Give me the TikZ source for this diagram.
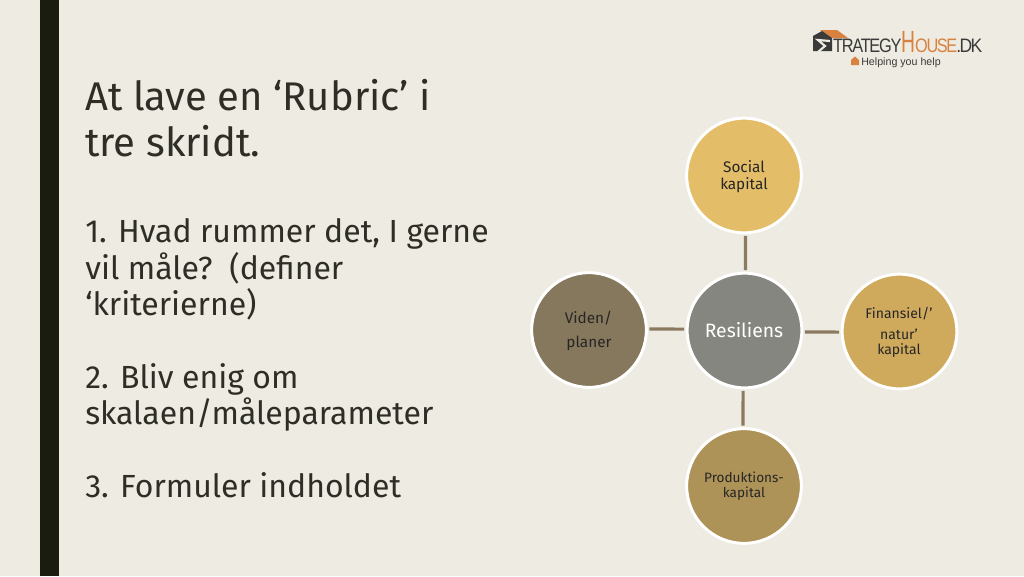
\documentclass[tikz,border=0pt]{standalone}
\usepackage{fontspec}
\setmainfont{Fira Sans}
\newfontfamily\logofont{Liberation Sans}
\definecolor{bgc}{HTML}{EEEBE3}
\definecolor{barc}{HTML}{1B1C10}
\definecolor{linkc}{HTML}{8C7A60}
\definecolor{txtc}{HTML}{2E2E26}
\definecolor{socc}{HTML}{E3BD68}
\definecolor{finc}{HTML}{CFAA5C}
\definecolor{proc}{HTML}{AE9358}
\definecolor{vidc}{HTML}{86785C}
\definecolor{resc}{HTML}{868680}
\definecolor{logoo}{HTML}{D9823F}
\definecolor{logok}{HTML}{3A3A38}
\tikzset{
  hub/.style={circle,draw=white,line width=2.2pt,minimum size=86pt,inner sep=0pt},
  link/.style={draw=linkc,line width=2.3pt,shorten <=1.2pt,shorten >=1.2pt},
  head/.style={anchor=base west,inner sep=0pt,text=txtc,font=\fontsize{30pt}{34pt}\selectfont},
  body/.style={anchor=base west,inner sep=0pt,text=txtc,font=\fontsize{24pt}{30pt}\selectfont},
  lbl/.style={inner sep=0pt,text=black!85,align=center,font=\fontsize{10.5pt}{12.5pt}\selectfont},
  lblb/.style={lbl,anchor=base},
  logot/.style={anchor=base west,inner sep=0pt}
}
\begin{document}
\begin{tikzpicture}[x=0.75pt,y=-0.75pt]
\useasboundingbox (0,0) rectangle (1024,576);
\fill[bgc] (0,0) rectangle (1024,576);
\fill[barc] (40,0) rectangle (59,576);
% text
\node[head] (h1) at (85,110) {At lave en ‘Rubric’ i};
\node[head] (h2) at (85,156) {tre skridt.};
\node[body] (t1) at (85,242) {1. Hvad rummer det, I gerne};
\node[body] (t2) at (85,279) {vil måle?\ \ (definer};
\node[body] (t3) at (85,315) {‘kriterierne)};
\node[body] (t4) at (85,388) {2. Bliv enig om};
\node[body] (t5) at (85,424) {skalaen/måleparameter};
\node[body] (t6) at (85,497) {3. Formuler indholdet};
% circles
\node[hub,fill=socc] (soc) at (744,175.5) {};
\node[hub,fill=resc] (res) at (744.5,330.5) {};
\node[hub,fill=finc] (fin) at (899.5,331.5) {};
\node[hub,fill=proc] (pro) at (744,486) {};
\node[hub,fill=vidc] (vid) at (589,330) {};
% text in circles
\node[lbl,font=\fontsize{11.5pt}{12.8pt}\selectfont] (soct) at (744,177) {Social\\kapital};
\node[inner sep=0pt,font=\fontsize{14.5pt}{17pt}\selectfont,text=white] (rest) at (744,330) {Resiliens};
\node[lblb] (fint1) at (899,318) {Finansiel/’};
\node[lblb] (fint2) at (899,339) {natur’};
\node[lblb] (fint3) at (899,354) {kapital};
\node[lbl,font=\fontsize{10.2pt}{11.5pt}\selectfont] (prot) at (744,486) {Produktions-\\kapital};
\node[lblb,font=\fontsize{11.5pt}{13pt}\selectfont] (vidt1) at (588.5,323) {Viden/};
\node[lblb,font=\fontsize{11.5pt}{13pt}\selectfont] (vidt2) at (589,347) {planer};
% connectors
\draw[link] ([xshift=1.1pt]soc.south) -- ([xshift=0.75pt]res.north);
\draw[link] ([yshift=-1.1pt]res.east) -- ([yshift=-0.4pt]fin.west);
\draw[link] ([xshift=-1.1pt]res.south) -- ([xshift=-0.75pt]pro.north);
\draw[link] ([yshift=0.75pt]vid.east) -- ([yshift=1.1pt]res.west);
% logo
\fill[logoo] (820,30) -- (837,30) -- (848,38) -- (832,38) -- cycle;
\fill[logok] (813,51) -- (813,36) -- (822,31) -- (832,38) -- (832,51) -- cycle;
\draw[bgc,line width=1.6pt] (830,41) -- (818,40) -- (825,46) -- (818,52);
\node[logot,text=logok,xscale=0.84,font=\logofont\fontsize{14.6pt}{16pt}\selectfont] (lg1) at (833,52) {\addfontfeature{LetterSpace=-8}TRATEGY};
\node[logot,text=logoo,xscale=0.63,font=\logofont\fontsize{23pt}{24pt}\selectfont] (lg2) at (901,52) {H};
\node[logot,text=logoo,xscale=0.84,font=\logofont\fontsize{14.6pt}{16pt}\selectfont] (lg3) at (915,52) {\addfontfeature{LetterSpace=-9}OUSE};
\node[logot,text=logok,xscale=0.9,font=\logofont\fontsize{14.6pt}{16pt}\selectfont] (lg4) at (956,52) {\addfontfeature{LetterSpace=-9}.DK};
\fill[logoo] (851,65) -- (851,60) -- (855,56.5) -- (859,60) -- (859,65) -- cycle;
\node[logot,text=logok,font=\logofont\fontsize{8pt}{10pt}\selectfont] (lg5) at (861,65) {Helping you help};
\end{tikzpicture}
\end{document}
